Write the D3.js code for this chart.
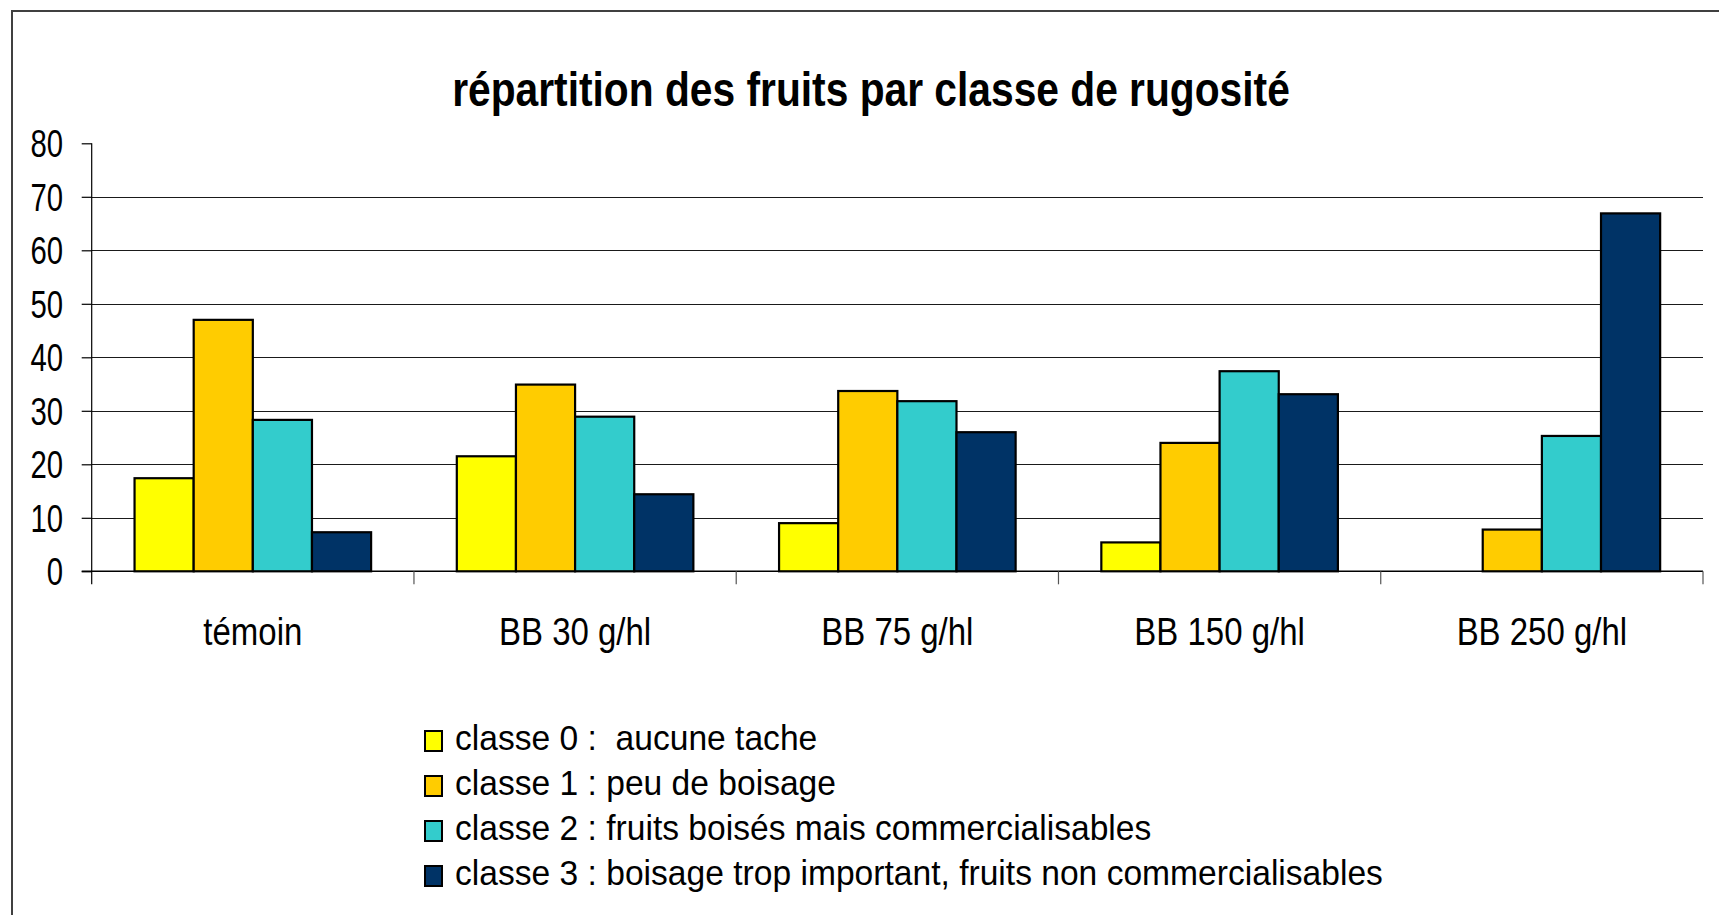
<!DOCTYPE html>
<html>
<head>
<meta charset="utf-8">
<script src="https://cdn.jsdelivr.net/npm/d3@7"></script>
<style>
  html, body { margin: 0; padding: 0; background: #fff; overflow: hidden; }
  svg { display: block; }
  text { font-family: "Liberation Sans Narrow", "Arial Narrow", "Liberation Sans", Arial, sans-serif; fill: #000; white-space: pre; }
</style>
</head>
<body>
<svg id="chart" width="1719" height="915"></svg>
<script>
const title = "répartition des fruits par classe de rugosité";
const categories = ["témoin", "BB 30 g/hl", "BB 75 g/hl", "BB 150 g/hl", "BB 250 g/hl"];
const seriesNames = [
  "classe 0 :  aucune tache",
  "classe 1 : peu de boisage",
  "classe 2 : fruits boisés mais commercialisables",
  "classe 3 : boisage trop important, fruits non commercialisables"
];
const classe0 = [17.4, 21.5, 9.0, 5.4, 0];
const classe1 = [47.0, 34.9, 33.7, 24.0, 7.8];
const classe2 = [28.3, 28.9, 31.8, 37.4, 25.3];
const classe3 = [7.3, 14.4, 26.0, 33.1, 66.9];
const seriesColors = ["#FFFF00", "#FFCC00", "#33CCCC", "#003366"];
const yTicks = [0, 10, 20, 30, 40, 50, 60, 70, 80];

const seriesValues = [classe0, classe1, classe2, classe3];

const svg = d3.select("#chart");
const plot = { left: 91.7, right: 1703, top: 143.3, bottom: 571.3 };

// Chart frame (right & bottom edges fall outside the view)
svg.append("rect")
  .attr("x", 12).attr("y", 11)
  .attr("width", 1760).attr("height", 960)
  .attr("fill", "#fff").attr("stroke", "#404040").attr("stroke-width", 2);

// measure helper for condensing text when no narrow font is installed
function measure(txt, size, weight) {
  const t = svg.append("text").attr("font-size", size).attr("font-weight", weight).text(txt);
  const w = t.node().getComputedTextLength();
  t.remove();
  return w;
}
const kTitle = 838 / measure(title, 49, "bold");
const kLegend = 928 / measure(seriesNames[3], 34.5, "normal");
const kTick = 32.6 / measure("80", 39, "normal");
const kCat = 99 / measure(categories[0], 39, "normal");

function addText(x, y, txt, size, weight, anchor, k) {
  const g = svg.append("g").attr("transform", `translate(${x},${y}) scale(${k},1)`);
  g.append("text").attr("font-size", size).attr("font-weight", weight)
    .attr("text-anchor", anchor).text(txt);
  return g;
}

const x0 = d3.scaleBand().domain(categories).range([plot.left, plot.right]).padding(0);
const x1 = d3.scaleBand().domain(d3.range(seriesValues.length))
  .range([0, x0.bandwidth()]).paddingInner(0).paddingOuter(0.7245);
const y = d3.scaleLinear().domain([0, 80]).range([plot.bottom, plot.top]);

// Gridlines
svg.append("g").selectAll("line")
  .data(yTicks.filter(d => d > 0 && d < 80))
  .join("line")
  .attr("x1", plot.left).attr("x2", plot.right)
  .attr("y1", d => Math.round(y(d)) + 0.5).attr("y2", d => Math.round(y(d)) + 0.5)
  .attr("stroke", "#1a1a1a").attr("stroke-width", 1.2);

// Y axis
const yAxis = d3.axisLeft(y).tickValues(yTicks).tickSize(10).tickPadding(18).tickFormat(d3.format("d"));
const yg = svg.append("g").attr("transform", `translate(${plot.left},0)`).call(yAxis);
yg.select(".domain").remove();
yg.selectAll(".tick line").attr("stroke", "#000").attr("stroke-width", 1.2);
yg.selectAll(".tick text").remove();
yTicks.forEach(v => addText(63, y(v) + 14, String(v), 39, "normal", "end", kTick));
svg.append("line").attr("x1", plot.left).attr("x2", plot.left)
  .attr("y1", plot.top).attr("y2", plot.bottom + 13)
  .attr("stroke", "#000").attr("stroke-width", 1.2);

// X axis
svg.append("line").attr("x1", plot.left - 10).attr("x2", plot.right)
  .attr("y1", plot.bottom).attr("y2", plot.bottom)
  .attr("stroke", "#000").attr("stroke-width", 1.5);
const dividers = categories.map(c => x0(c)).concat([x0(categories[categories.length - 1]) + x0.bandwidth()]);
svg.append("g").selectAll("line").data(dividers.slice(1)).join("line")
  .attr("x1", d => d).attr("x2", d => d)
  .attr("y1", plot.bottom).attr("y2", plot.bottom + 13)
  .attr("stroke", "#555").attr("stroke-width", 1.2);
categories.forEach(c => addText(x0(c) + x0.bandwidth() / 2, 645, c, 39, "normal", "middle", kCat));

// Bars
const groups = svg.append("g").selectAll("g").data(categories).join("g")
  .attr("transform", c => `translate(${x0(c)},0)`);
groups.selectAll("rect")
  .data((c, ci) => seriesValues.map((vals, si) => ({ si, v: vals[ci] })).filter(d => d.v > 0))
  .join("rect")
  .attr("x", d => x1(d.si))
  .attr("width", x1.bandwidth())
  .attr("y", d => y(d.v))
  .attr("height", d => plot.bottom - y(d.v))
  .attr("fill", d => seriesColors[d.si])
  .attr("stroke", "#000").attr("stroke-width", 2.2);

// Title
addText(871, 106, title, 49, "bold", "middle", kTitle);

// Legend
const legendRowY = [750, 795, 840, 885];
seriesNames.forEach((name, i) => {
  svg.append("rect")
    .attr("x", 425).attr("y", legendRowY[i] - 19)
    .attr("width", 17).attr("height", 20)
    .attr("fill", seriesColors[i]).attr("stroke", "#000").attr("stroke-width", 2);
  addText(455, legendRowY[i], name, 34.5, "normal", "start", kLegend);
});
</script>
</body>
</html>
